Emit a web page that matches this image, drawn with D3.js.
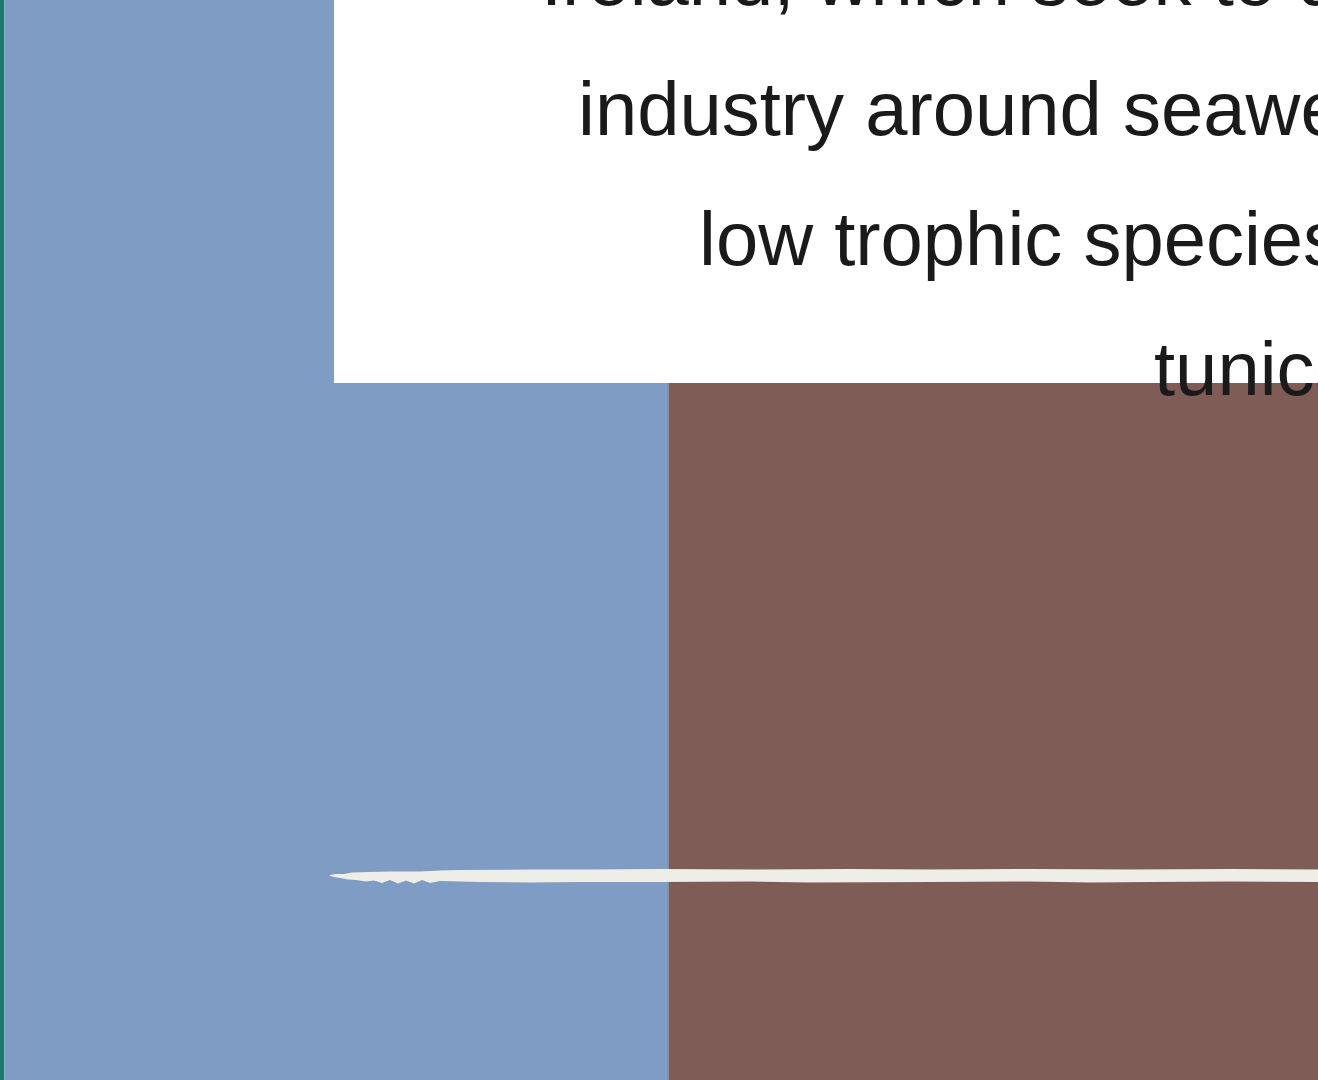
<!DOCTYPE html>
<html>
<head>
<meta charset="utf-8">
<script src="https://cdn.jsdelivr.net/npm/d3@7"></script>
<style>
  html, body { margin: 0; padding: 0; background: #ffffff; overflow: hidden; }
  svg { display: block; }
</style>
</head>
<body>
<div id="chart"></div>
<script>
// ---- data ----
const categories = ["Seaweed", "Shellfish", "Tunicates"];
const values = [140, 140, 140];
const barColors = ["#1e7a6d", "#7f9dc4", "#7f5d56"];
const thresholdValue = 27;
const noteLines = [
  "Ireland, which seek to develop an",
  "industry around seaweed and other",
  "low trophic species such as",
  "tunicates."
];
const noteLineStarts = [541, 578, 699, 1154];

// ---- layout ----
const W = 1318, H = 1080;
const svg = d3.select("#chart").append("svg").attr("width", W).attr("height", H);

const x = d3.scaleBand().domain(categories).range([-660, 1333]).paddingInner(0).paddingOuter(0);
const y = d3.scaleLinear().domain([0, 100]).range([1200, 0]);

svg.selectAll("rect.bar")
  .data(categories)
  .join("rect")
  .attr("class", "bar")
  .attr("x", d => x(d))
  .attr("width", x.bandwidth())
  .attr("y", (d, i) => y(values[i]))
  .attr("height", (d, i) => y(0) - y(values[i]))
  .attr("fill", (d, i) => barColors[i]);

// thin seam between blue and brown
svg.append("line")
  .attr("x1", x("Tunicates") - 0.5).attr("x2", x("Tunicates") - 0.5)
  .attr("y1", 0).attr("y2", H)
  .attr("stroke", "#778db0").attr("stroke-width", 1.2);

// brush-stroke threshold line (edge offsets in px from the start and from the line centre)
const ty = y(thresholdValue) - 0.5;
const x0 = 330, x1 = W + 10;
const topEdge = [[0, -0.5], [6, -1.5], [14, -1.5], [22, -3], [40, -3.5], [60, -4], [90, -4], [110, -5], [130, -5.5], [200, -6],
  [260, -6], [330, -6.5], [420, -6], [520, -6.5], [600, -6], [700, -6.5], [800, -6], [900, -6.5], [1000, -6]];
const botEdge = [[1000, 6.5], [900, 6], [820, 6.5], [760, 7], [700, 6], [600, 6.5], [480, 7], [420, 6], [330, 6.5],
  [250, 6.5], [200, 7], [150, 6.5], [110, 5.5], [100, 7.5], [92, 4.5], [84, 8], [76, 5], [68, 8], [60, 4.5], [52, 7.5],
  [44, 5], [36, 6], [26, 4.5], [18, 4], [10, 2.5], [4, 1.5], [0, 0.5]];
const brushPts = topEdge.map(p => [x0 + p[0], ty + p[1]])
  .concat(botEdge.map(p => [x0 + p[0], ty + p[1]]));
svg.append("path")
  .attr("d", d3.line().curve(d3.curveLinearClosed)(brushPts))
  .attr("fill", "#efede8");

// annotation box
svg.append("rect")
  .attr("x", 334).attr("y", -10)
  .attr("width", W - 334 + 20).attr("height", 393)
  .attr("fill", "#ffffff");

svg.selectAll("text.note")
  .data(noteLines)
  .join("text")
  .attr("class", "note")
  .attr("x", (d, i) => noteLineStarts[i])
  .attr("y", (d, i) => 5 + i * 130)
  .attr("font-family", "'Liberation Sans', Arial, sans-serif")
  .attr("font-size", 76)
  .attr("fill", "#1a1a1a")
  .text(d => d);
</script>
</body>
</html>
